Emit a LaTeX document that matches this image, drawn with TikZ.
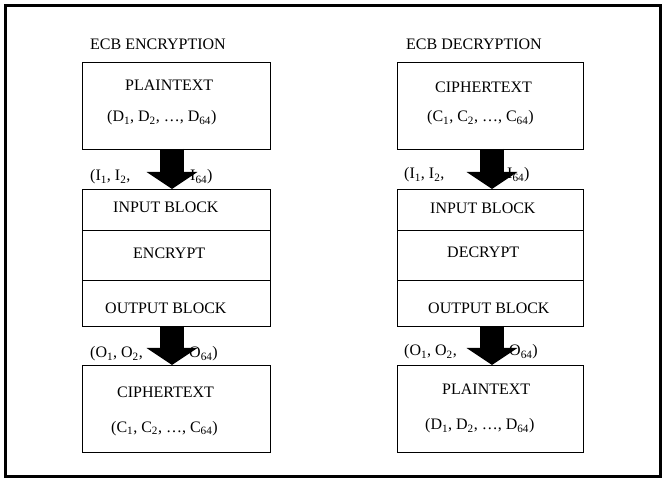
\documentclass[tikz,border=0pt]{standalone}
\usepackage{fontspec}
\setmainfont{Liberation Serif}
\usetikzlibrary{arrows.meta}

\begin{document}
\begin{tikzpicture}[x=1pt,y=-1pt,
	box/.style={draw,line width=0.9pt,inner sep=0pt,outer sep=0pt,minimum width=188pt},
	txt/.style={anchor=base west,inner sep=0pt,font=\fontsize{16}{19}\selectfont},
	bigarrow/.style={line width=24pt,-{Triangle[width=50pt,length=17pt]}}]
			%%%%% START %%%%%
			
			\useasboundingbox (0,0) rectangle (665,481);
			\draw[line width=3pt] (5.5,5.3) rectangle (660.5,476.5);
			
			% encryption side
			\node[txt] (encTitle) at (90,50) {ECB ENCRYPTION};
			\node[box,minimum height=87pt] (encPlain) at (176,105.5) {};
			\node[txt] (encPt) at (125,91) {PLAINTEXT};
			\node[txt] (encD) at (107,122) {(D\textsubscript{1}, D\textsubscript{2}, \ldots, D\textsubscript{64})};
			
			\node[box,minimum height=41pt] (encIn) at (176,209.5) {};
			\node[box,minimum height=50pt] (encMid) at (176,255) {};
			\node[box,minimum height=46pt] (encOut) at (176,303) {};
			\node[txt] (encI) at (90,181) {(I\textsubscript{1}, I\textsubscript{2},};
			\node[txt] (encIe) at (190,181) {I\textsubscript{64})};
			\node[txt] (encInT) at (113,213) {INPUT BLOCK};
			\node[txt] (encMidT) at (133,259) {ENCRYPT};
			\node[txt] (encOutT) at (105,314) {OUTPUT BLOCK};
			
			\node[box,minimum height=87pt] (encCipher) at (176,408.5) {};
			\node[txt] (encO) at (90,358) {(O\textsubscript{1}, O\textsubscript{2},};
			\node[txt] (encOe) at (189,358) {O\textsubscript{64})};
			\node[txt] (encCt) at (117,398) {CIPHERTEXT};
			\node[txt] (encC) at (111,432) {(C\textsubscript{1}, C\textsubscript{2}, \ldots, C\textsubscript{64})};
			
			\draw[bigarrow] ([xshift=-4]encPlain.south) -- ([xshift=-4]encIn.north);
			\draw[bigarrow] ([xshift=-4]encOut.south) -- ([xshift=-4]encCipher.north);
			
			% decryption side
			\node[txt] (decTitle) at (406,50) {ECB DECRYPTION};
			\node[box,minimum width=186pt,minimum height=87pt] (decCipher) at (490,105.5) {};
			\node[txt] (decCt) at (435,93) {CIPHERTEXT};
			\node[txt] (decC) at (427,122) {(C\textsubscript{1}, C\textsubscript{2}, \ldots, C\textsubscript{64})};
			
			\node[box,minimum width=186pt,minimum height=41pt] (decIn) at (490,209.5) {};
			\node[box,minimum width=186pt,minimum height=50pt] (decMid) at (490,255) {};
			\node[box,minimum width=186pt,minimum height=46pt] (decOut) at (490,303) {};
			\node[txt] (decI) at (404,179) {(I\textsubscript{1}, I\textsubscript{2},};
			\node[txt] (decIe) at (507,179) {I\textsubscript{64})};
			\node[txt] (decInT) at (430,214) {INPUT BLOCK};
			\node[txt] (decMidT) at (447,258) {DECRYPT};
			\node[txt] (decOutT) at (428,314) {OUTPUT BLOCK};
			
			\node[box,minimum width=186pt,minimum height=87pt] (decPlain) at (490,408.5) {};
			\node[txt] (decO) at (404,356) {(O\textsubscript{1}, O\textsubscript{2},};
			\node[txt] (decOe) at (509,356) {O\textsubscript{64})};
			\node[txt] (decPt) at (442,395) {PLAINTEXT};
			\node[txt] (decD) at (425,430) {(D\textsubscript{1}, D\textsubscript{2}, \ldots, D\textsubscript{64})};
			
			\draw[bigarrow] ([xshift=2]decCipher.south) -- ([xshift=2]decIn.north);
			\draw[bigarrow] ([xshift=2]decOut.south) -- ([xshift=2]decPlain.north);
			
			%%%%% END %%%%%
\end{tikzpicture}
\end{document}
